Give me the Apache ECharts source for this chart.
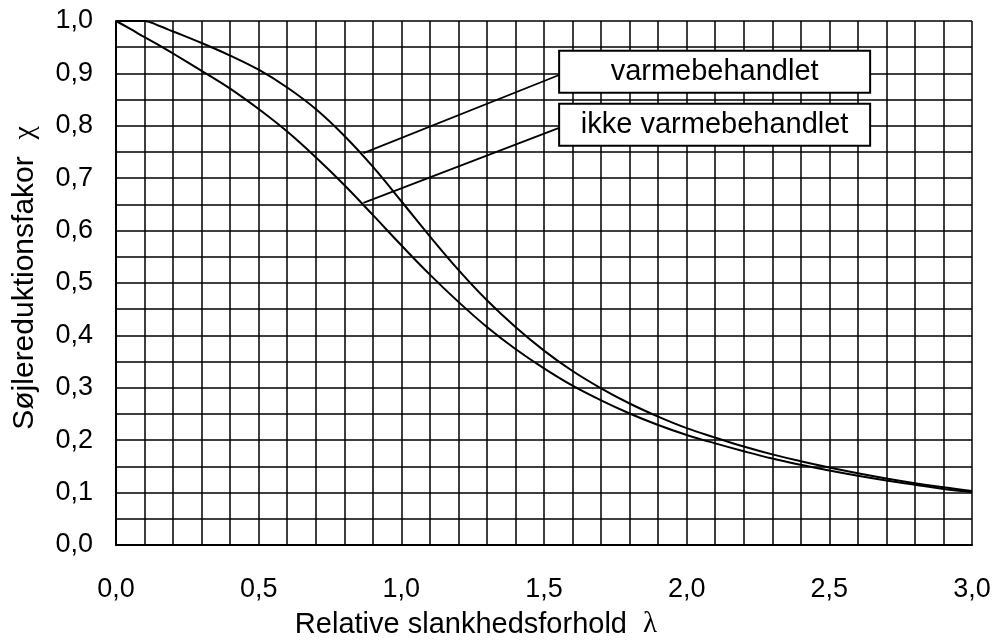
<!DOCTYPE html>
<html>
<head>
<meta charset="utf-8">
<script src="https://cdn.jsdelivr.net/npm/echarts@6/dist/echarts.min.js"></script>
<style>html,body{margin:0;padding:0;background:#fff}#c{width:996px;height:644px}</style>
</head>
<body>
<div id="c"></div>
<script>
// Relative slenderness λ
const lambda = [0,0.05,0.1,0.15,0.2,0.3,0.4,0.5,0.6,0.7,0.8,0.9,1.0,1.1,1.2,1.3,1.4,1.5,1.6,1.7,1.8,1.9,2.0,2.1,2.2,2.3,2.4,2.5,2.6,2.7,2.8,2.9,3.0];
// χ, varmebehandlet
const chiHeat = [1.000,1.000,1.000,0.991,0.980,0.958,0.934,0.907,0.873,0.832,0.781,0.722,0.656,0.589,0.525,0.467,0.416,0.371,0.332,0.299,0.270,0.245,0.223,0.205,0.188,0.173,0.160,0.148,0.137,0.127,0.118,0.110,0.103];
// χ, ikke varmebehandlet
const chiNoHeat = [1.000,0.985,0.969,0.954,0.938,0.905,0.871,0.832,0.789,0.740,0.687,0.630,0.572,0.516,0.464,0.416,0.374,0.337,0.304,0.276,0.251,0.229,0.210,0.194,0.179,0.165,0.153,0.142,0.132,0.123,0.115,0.107,0.101];
// annotation labels and leader lines (data coordinates)
const labelNames = ['varmebehandlet','ikke varmebehandlet'];
const labelPos = [[2.098,0.903],[2.098,0.802]];
const leaderHeat = [[0.867,0.748],[1.553,0.897]];
const leaderNoHeat = [[0.867,0.653],[1.553,0.796]];
const xTicks = {min:0, max:3, interval:0.5, minorSplit:5};
const yTicks = {min:0, max:1, interval:0.1, minorSplit:2};

const font = 'Liberation Sans, Arial, sans-serif';
const gridLine = {lineStyle:{color:'#000', width:1.5}};
const fmt = v => v.toFixed(1).replace('.', ',');

const chart = echarts.init(document.getElementById('c'), null, {renderer:'canvas'});
chart.setOption({
  animation:false,
  backgroundColor:'#fff',
  grid:{left:116, right:24, top:21, bottom:97, containLabel:false},
  xAxis:{
    type:'value', min:xTicks.min, max:xTicks.max, interval:xTicks.interval,
    name:'Relative slankhedsforhold  {g|λ}', nameLocation:'middle', nameGap:65,
    nameTextStyle:{fontFamily:font, fontSize:29, color:'#000', padding:[0,136,0,0],
      rich:{g:{fontFamily:'Liberation Serif, DejaVu Serif, serif', fontSize:29, color:'#000'}}},
    axisLine:{show:true, lineStyle:{color:'#000', width:2}},
    axisTick:{show:false},
    minorTick:{show:false, splitNumber:xTicks.minorSplit},
    splitLine:{show:true, lineStyle:gridLine.lineStyle},
    minorSplitLine:{show:true, lineStyle:gridLine.lineStyle},
    axisLabel:{fontFamily:font, fontSize:27, color:'#000', margin:31, formatter:fmt}
  },
  yAxis:{
    type:'value', min:yTicks.min, max:yTicks.max, interval:yTicks.interval,
    name:'Søjlereduktionsfakor  {g|χ}', nameLocation:'middle', nameGap:76,
    nameTextStyle:{fontFamily:font, fontSize:30, color:'#000', padding:[0,0,0,10],
      rich:{g:{fontFamily:'Liberation Serif, DejaVu Serif, serif', fontSize:30, color:'#000'}}},
    axisLine:{show:true, lineStyle:{color:'#000', width:2}},
    axisTick:{show:false},
    minorTick:{show:false, splitNumber:yTicks.minorSplit},
    splitLine:{show:true, lineStyle:gridLine.lineStyle},
    minorSplitLine:{show:true, lineStyle:gridLine.lineStyle},
    axisLabel:{fontFamily:font, fontSize:27, color:'#000', margin:23, formatter:fmt}
  },
  series:[
    {type:'line', name:'varmebehandlet', data:lambda.map((x,i)=>[x,chiHeat[i]]),
     smooth:0.4, symbol:'none', lineStyle:{color:'#000', width:2}, z:3},
    {type:'line', name:'ikke varmebehandlet', data:lambda.map((x,i)=>[x,chiNoHeat[i]]),
     smooth:0.4, symbol:'none', lineStyle:{color:'#000', width:2}, z:3},
    {type:'line', data:leaderHeat, symbol:'none', lineStyle:{color:'#000', width:1.8}, z:4},
    {type:'line', data:leaderNoHeat, symbol:'none', lineStyle:{color:'#000', width:1.8}, z:4},
    {type:'scatter', symbolSize:0, z:10, itemStyle:{opacity:1},
     data:labelPos.map((p,i)=>({value:p, name:labelNames[i]})),
     emphasis:{disabled:true},
     label:{show:true, position:'inside', formatter:p=>p.name, opacity:1,
       fontFamily:font, fontSize:29, color:'#000',
       backgroundColor:'#fff', borderColor:'#000', borderWidth:2,
       width:309, height:40, lineHeight:40, align:'center', verticalAlign:'middle', padding:0}}
  ]
});
</script>
</body>
</html>
